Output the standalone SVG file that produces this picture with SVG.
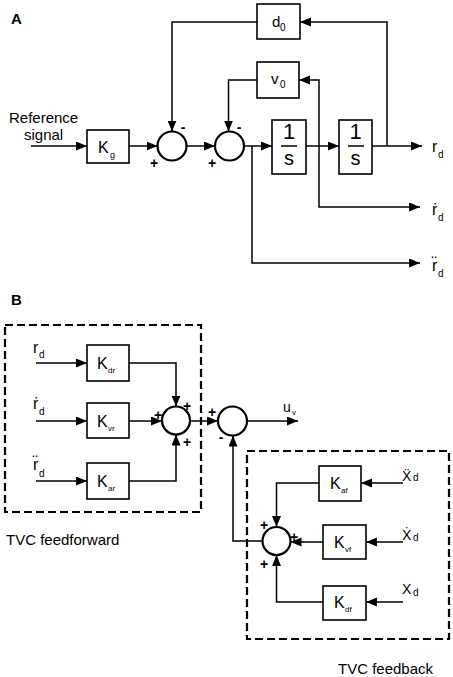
<svg xmlns="http://www.w3.org/2000/svg" width="453" height="677" viewBox="0 0 453 677">
<defs>
<marker id="arr" markerUnits="userSpaceOnUse" markerWidth="12" markerHeight="10" refX="11" refY="4.5" orient="auto">
<path d="M0,0 L11,4.5 L0,9 z" fill="#000"/>
</marker>
</defs>
<style>
text{font-family:"Liberation Sans","DejaVu Sans",Arial,sans-serif;fill:#000}
.blk{fill:#fff;stroke:#000;stroke-width:1.6}
.sum{fill:#fff;stroke:#000;stroke-width:2.2}
.ln2{fill:none;stroke:#000;stroke-width:1.5;marker-end:url(#arr)}
.dash{fill:none;stroke:#000;stroke-width:2.2;stroke-dasharray:8 4}
.lab{font-size:15px}
.k{font-size:16px}
.sub{font-size:9px}
.sg{font-size:14px;text-anchor:middle;font-weight:bold}
.ttl{font-size:15px;font-weight:bold}
</style>

<text class="ttl" x="11" y="24">A</text>
<text class="ttl" x="11" y="305">B</text>

<g id="connectors">
<path class="ln2" d="M31,146 H87"/>
<path class="ln2" d="M129,146 H157.5"/>
<path class="ln2" d="M186.5,146 H215"/>
<path class="ln2" d="M244,146 H272"/>
<path class="ln2" d="M306,146 H339"/>
<path class="ln2" d="M372,146 H422"/>
<path class="ln2" d="M387,146 V22 H300"/>
<path class="ln2" d="M257,22 H172 V131.5"/>
<path class="ln2" d="M319,146 V80 H299"/>
<path class="ln2" d="M319,146 V207 H420"/>
<path class="ln2" d="M257,80 H228.5 V131.5"/>
<path class="ln2" d="M252,146 V263 H420"/>

<path class="ln2" d="M36,363 H87"/>
<path class="ln2" d="M36,421 H87"/>
<path class="ln2" d="M36,481 H87"/>
<path class="ln2" d="M129,363 H176 V406.5"/>
<path class="ln2" d="M129,421 H162"/>
<path class="ln2" d="M129,481 H176 V434.5"/>
<path class="ln2" d="M190,421 H218"/>
<path class="ln2" d="M247,421 H298"/>
<path class="ln2" d="M262,541 H233 V435.5"/>
<path class="ln2" d="M403,483 H361"/>
<path class="ln2" d="M403,542 H366"/>
<path class="ln2" d="M403,602 H366"/>
<path class="ln2" d="M319,483 H276.5 V527"/>
<path class="ln2" d="M323,542 H290.5"/>
<path class="ln2" d="M323,602 H276.5 V555"/>
</g>

<g id="ref-signal">
<text class="lab" x="9" y="123">Reference</text>
<text class="lab" x="24" y="140">signal</text>
</g>

<g id="Kg">
<rect class="blk" x="87" y="130" width="42" height="33"/>
<text class="k" x="98" y="153">K</text><text class="sub" x="110" y="158">g</text>
</g>

<g id="sum1">
<circle class="sum" cx="172" cy="146" r="14.5"/>
<text class="sg" x="154" y="168">+</text>
<text class="sg" x="183" y="132">-</text>
</g>

<g id="sum2">
<circle class="sum" cx="229.5" cy="146" r="14.5"/>
<text class="sg" x="212" y="168">+</text>
<text class="sg" x="239" y="132">-</text>
</g>

<g id="d0">
<rect class="blk" x="257" y="4" width="43" height="35"/>
<text class="lab" x="272" y="27">d</text><text class="sub" style="font-size:10px" x="280" y="31">0</text>
</g>

<g id="v0">
<rect class="blk" x="257" y="62" width="42" height="36"/>
<text class="lab" x="271" y="84">v</text><text class="sub" style="font-size:10px" x="280" y="88">0</text>
</g>

<g id="int1">
<rect class="blk" x="272" y="120" width="34" height="54"/>
<text x="289" y="139" font-size="22" text-anchor="middle">1</text>
<line x1="281" y1="146" x2="297" y2="146" stroke="#000" stroke-width="1.5"/>
<text x="289" y="165" font-size="20" text-anchor="middle">s</text>
</g>

<g id="int2">
<rect class="blk" x="339" y="120" width="33" height="54"/>
<text x="355.5" y="139" font-size="22" text-anchor="middle">1</text>
<line x1="348" y1="146" x2="364" y2="146" stroke="#000" stroke-width="1.5"/>
<text x="355.5" y="165" font-size="20" text-anchor="middle">s</text>
</g>

<g id="out-labels-A">
<text font-size="16" x="432" y="152">r</text><text font-size="10" x="438" y="158">d</text>
<text font-size="16" x="432" y="215">ṙ</text><text font-size="10" x="438" y="221">d</text>
<text font-size="16" x="432" y="271">r̈</text><text font-size="10" x="438" y="277">d</text>
</g>

<g id="feedforward">
<rect class="dash" x="5" y="325" width="196" height="187"/>
<text class="lab" x="6" y="545">TVC feedforward</text>
<text font-size="16" x="33" y="353">r</text><text font-size="10" x="39" y="358">d</text>
<text font-size="16" x="33" y="409">ṙ</text><text font-size="10" x="39" y="415">d</text>
<text font-size="16" x="33" y="470">r̈</text><text font-size="10" x="39" y="477">d</text>
</g>

<g id="Kdr">
<rect class="blk" x="87" y="345" width="42" height="36"/>
<text class="k" x="97" y="369">K</text><text class="sub" style="font-size:8px" x="108" y="373">dr</text>
</g>
<g id="Kvr">
<rect class="blk" x="87" y="403" width="42" height="35"/>
<text class="k" x="97" y="427">K</text><text class="sub" style="font-size:8px" x="108" y="431">vr</text>
</g>
<g id="Kar">
<rect class="blk" x="87" y="463" width="42" height="36"/>
<text class="k" x="97" y="487">K</text><text class="sub" style="font-size:8px" x="108" y="491">ar</text>
</g>

<g id="sum3">
<circle class="sum" cx="176" cy="420.5" r="14"/>
<text class="sg" x="187" y="411">+</text>
<text class="sg" x="158" y="420">+</text>
<text class="sg" x="187" y="447">+</text>
</g>

<g id="sum4">
<circle class="sum" cx="232.5" cy="421" r="14.5"/>
<text class="sg" x="212" y="417">+</text>
<text class="sg" x="221" y="442">-</text>
<text font-size="14" x="283" y="412">u</text><text font-size="8" x="292" y="415">v</text>
</g>

<g id="feedback">
<rect class="dash" x="247" y="451" width="202" height="188"/>
<text class="lab" x="338" y="674">TVC feedback</text>
<text font-size="14" x="402" y="481">Ẍ</text><text font-size="10" x="413" y="481">d</text>
<text font-size="14" x="402" y="540">Ẋ</text><text font-size="10" x="413" y="541">d</text>
<text font-size="14" x="402" y="594">X</text><text font-size="10" x="413" y="596">d</text>
</g>

<g id="Kaf">
<rect class="blk" x="319" y="466" width="42" height="35"/>
<text class="k" x="330" y="489">K</text><text class="sub" style="font-size:8px" x="341" y="493">af</text>
</g>
<g id="Kvf">
<rect class="blk" x="323" y="525" width="43" height="34"/>
<text class="k" x="334" y="548">K</text><text class="sub" style="font-size:8px" x="345" y="552">vf</text>
</g>
<g id="Kdf">
<rect class="blk" x="323" y="586" width="43" height="34"/>
<text class="k" x="334" y="608">K</text><text class="sub" style="font-size:8px" x="345" y="612">df</text>
</g>

<g id="sum5">
<circle class="sum" cx="276.5" cy="541" r="14"/>
<text class="sg" x="264" y="530">+</text>
<text class="sg" x="294" y="542">+</text>
<text class="sg" x="264" y="569">+</text>
</g>
</svg>
